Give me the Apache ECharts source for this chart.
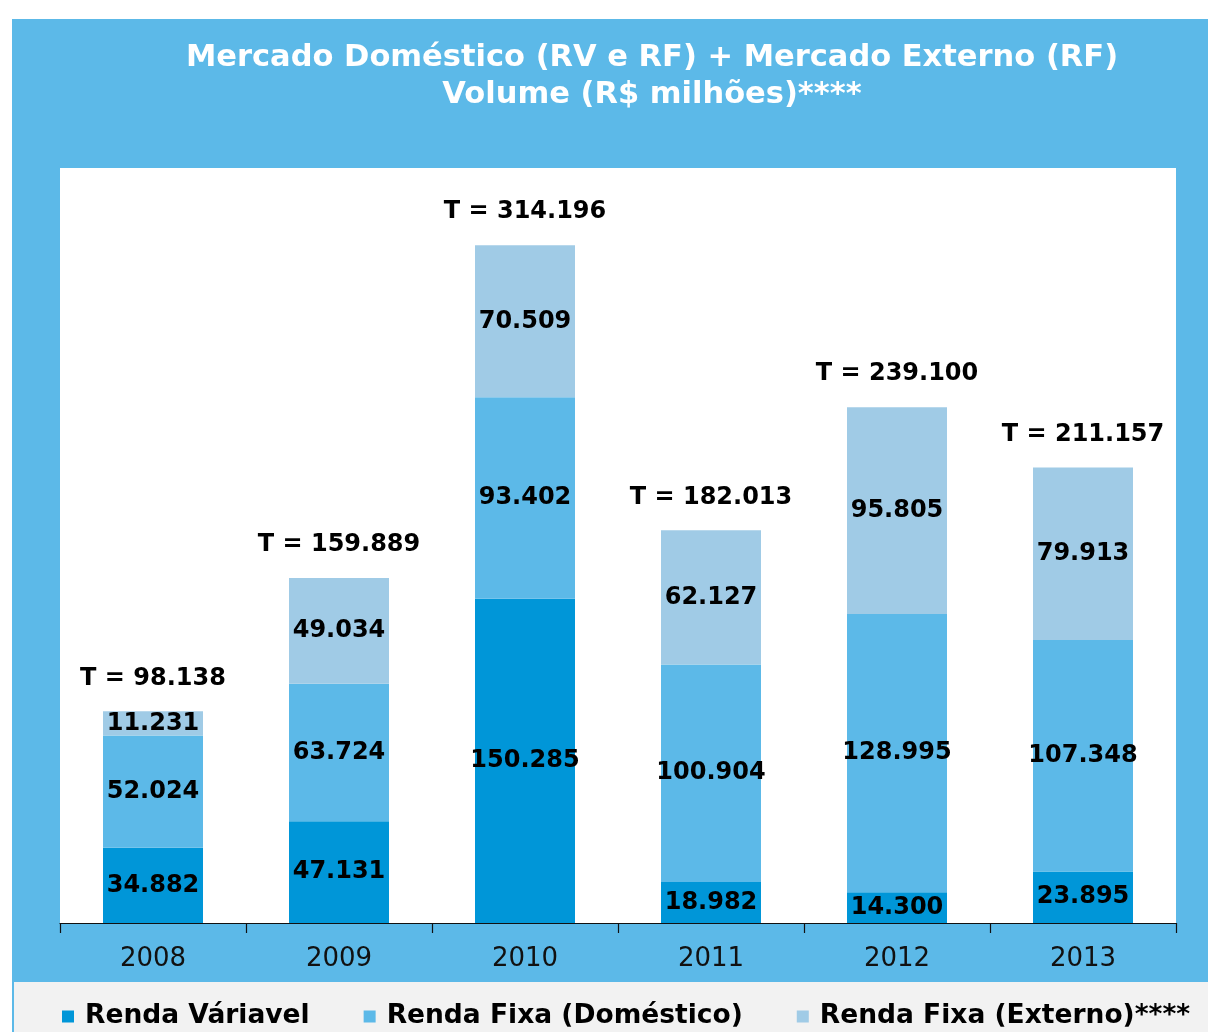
<!DOCTYPE html>
<html><head><meta charset="utf-8">
<script src="https://cdn.jsdelivr.net/npm/echarts@6/dist/echarts.min.js"></script>
<style>html,body{margin:0;padding:0;background:#fff}#c{width:1208px;height:1032px}</style>
</head><body><div id="c"></div>
<script>
const categories = ['2008','2009','2010','2011','2012','2013'];
const rendaVariavel = [34882, 47131, 150285, 18982, 14300, 23895];
const rendaFixaDomestico = [52024, 63724, 93402, 100904, 128995, 107348];
const rendaFixaExterno = [11231, 49034, 70509, 62127, 95805, 79913];
const totals = [98138, 159889, 314196, 182013, 239100, 211157];
const seriesNames = ['Renda Váriavel', 'Renda Fixa (Doméstico)', 'Renda Fixa (Externo)****'];
const titleLines = ['Mercado Doméstico (RV e RF) + Mercado Externo (RF)', 'Volume (R$ milhões)****'];

const fmt = v => String(v).replace(/\B(?=(\d{3})+(?!\d))/g, '.');
const FONT = 'DejaVu Sans';
const innerLabel = {
  show: true, position: 'inside', color: '#000', fontFamily: FONT, fontWeight: 'bold',
  fontSize: 24, overflow: 'none', formatter: p => fmt(p.value)
};
const chart = echarts.init(document.getElementById('c'));
chart.setOption({
  animation: false,
  backgroundColor: '#fff',
  graphic: [
    { type: 'rect', z: -10, shape: { x: 12, y: 19, width: 1196, height: 1013 }, style: { fill: '#5cb9e8' } },
    { type: 'rect', z: -9, shape: { x: 14, y: 982, width: 1194, height: 50 }, style: { fill: '#f2f2f2' } },
    { type: 'text', z: 10, x: 652, y: 40, style: { text: titleLines.join('\n'), fill: '#fff',
      font: 'bold 30.5px "DejaVu Sans"', textAlign: 'center', lineHeight: 37 } }
  ],
  grid: { left: 60, right: 32, top: 168, bottom: 109, show: true, backgroundColor: '#fff', borderWidth: 0 },
  legend: {
    left: 62, top: 1003, padding: 0, icon: 'rect', itemWidth: 12, itemHeight: 12, itemGap: 54,
    textStyle: { fontFamily: FONT, fontWeight: 'bold', fontSize: 26.5, color: '#000', padding: [0,0,0,6] },
    data: seriesNames
  },
  xAxis: {
    type: 'category', data: categories,
    axisLine: { lineStyle: { color: '#111', width: 1.2 } },
    axisTick: { show: true, length: 10, lineStyle: { color: '#111', width: 1.2 } },
    axisLabel: { color: '#111', fontFamily: FONT, fontSize: 26, margin: 23 }
  },
  yAxis: { type: 'value', min: 0, max: 350000, show: false, splitLine: { show: false } },
  series: [
    { name: seriesNames[0], type: 'bar', stack: 't', barWidth: 100, data: rendaVariavel,
      itemStyle: { color: '#0096d8' }, label: innerLabel },
    { name: seriesNames[1], type: 'bar', stack: 't', barWidth: 100, data: rendaFixaDomestico,
      itemStyle: { color: '#5cb9e8' }, label: innerLabel },
    { name: seriesNames[2], type: 'bar', stack: 't', barWidth: 100, data: rendaFixaExterno,
      itemStyle: { color: '#a0cbe6' }, label: innerLabel },
    { name: 'Total', type: 'scatter', data: totals, symbolSize: 0, silent: true,
      itemStyle: { opacity: 1 },
      label: { show: true, position: 'top', distance: 21, color: '#000', opacity: 1, fontFamily: FONT,
        fontWeight: 'bold', fontSize: 24, formatter: p => 'T = ' + fmt(p.value) } }
  ]
});
</script></body></html>
